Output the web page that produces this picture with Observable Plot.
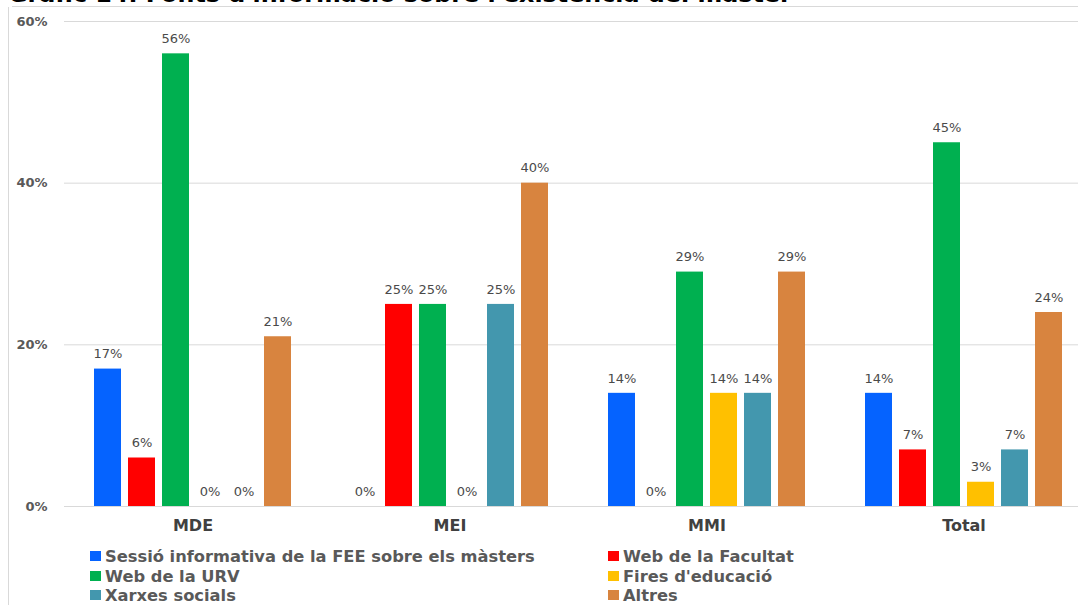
<!DOCTYPE html>
<html>
<head>
<meta charset="utf-8">
<script src="https://cdn.jsdelivr.net/npm/d3@7"></script>
<script src="https://cdn.jsdelivr.net/npm/@observablehq/plot@0.6"></script>
<style>
  html, body { margin: 0; padding: 0; background: #fff; overflow: hidden; width: 1078px; height: 605px; }
  #wrap { position: relative; width: 1078px; height: 605px; overflow: hidden; font-family: "DejaVu Sans", Verdana, sans-serif; }
  #title { position: absolute; left: 8px; top: -18px; font: bold 23.8px/24px "DejaVu Sans", sans-serif; color: #000; white-space: nowrap; }
  #frameTop { position: absolute; left: 12px; top: 6px; width: 1070px; height: 1px; background: #d9d9d9; }
  #frameLeft { position: absolute; left: 8px; top: 7px; width: 1px; height: 600px; background: #d9d9d9; }
  #chart { position: absolute; left: 0; top: 0; width: 1093px; }
  #chart svg { max-width: none !important; }
  .leg { position: absolute; font: bold 16.3px "DejaVu Sans", sans-serif; color: #595959; white-space: nowrap; line-height: 19px; }
  .leg span.sw { display: inline-block; width: 11px; height: 10px; margin-right: 4px; vertical-align: 1px; }
</style>
</head>
<body>
<div id="wrap">
  <div id="title">Gràfic 14. Fonts d'informació sobre l'existència del màster</div>
  <div id="frameTop"></div>
  <div id="frameLeft"></div>
  <div id="chart"></div>
  <div id="legend"></div>
</div>
<script>
const groups = ["MDE", "MEI", "MMI", "Total"];
const series = [
  "Sessió informativa de la FEE sobre els màsters",
  "Web de la Facultat",
  "Web de la URV",
  "Fires d'educació",
  "Xarxes socials",
  "Altres"
];
const colors = ["#0563FF", "#FF0000", "#00B050", "#FFC000", "#4397AE", "#D8843F"];
const sessio   = [17, 0, 14, 14];
const webFac   = [6, 25, 0, 7];
const webURV   = [56, 25, 29, 45];
const fires    = [0, 0, 14, 3];
const xarxes   = [0, 25, 14, 7];
const altres   = [21, 40, 29, 24];
const yTicks = [0, 20, 40, 60];

const valuesBySeries = [sessio, webFac, webURV, fires, xarxes, altres];
const data = [];
groups.forEach((g, gi) => {
  series.forEach((s, si) => {
    data.push({group: g, series: s, value: valuesBySeries[si][gi]});
  });
});

const chart = Plot.plot({
  width: 1093,
  height: 540,
  marginLeft: 62,
  marginRight: 0,
  marginTop: 21,
  marginBottom: 34,
  style: {fontFamily: "'DejaVu Sans', sans-serif", background: "transparent", maxWidth: "none"},
  fx: {domain: groups, padding: 0, label: null},
  x: {domain: series, paddingInner: 0.21, paddingOuter: 0.86, axis: null},
  y: {domain: [0, 60], ticks: yTicks, label: null},
  color: {domain: series, range: colors},
  marks: [
    Plot.ruleY(yTicks, {stroke: "#d9d9d9", strokeWidth: 1}),
    Plot.axisY({ticks: yTicks, tickSize: 0, tickPadding: 17, tickFormat: d => d + "%", fontSize: 13, fontWeight: "bold", fill: "#595959", label: null}),
    Plot.axisFx({anchor: "bottom", tickSize: 0, tickPadding: 13, fontSize: 16, fontWeight: "bold", fill: "#404040", label: null}),
    Plot.barY(data, {fx: "group", x: "series", y: "value", fill: "series"}),
    Plot.text(data, {fx: "group", x: "series", y: "value", text: d => d.value + "%", dy: -15, fontSize: 13, fill: "#4a4a4a"})
  ]
});
document.getElementById("chart").appendChild(chart);

const legend = document.getElementById("legend");
const legPos = [
  [90, 547], [608, 547],
  [90, 567], [608, 567],
  [90, 586], [608, 586]
];
series.forEach((s, i) => {
  const d = document.createElement("div");
  d.className = "leg";
  d.style.left = legPos[i][0] + "px";
  d.style.top = legPos[i][1] + "px";
  d.innerHTML = `<span class="sw" style="background:${colors[i]}"></span>`;
  d.appendChild(document.createTextNode(s));
  legend.appendChild(d);
});
</script>
</body>
</html>
